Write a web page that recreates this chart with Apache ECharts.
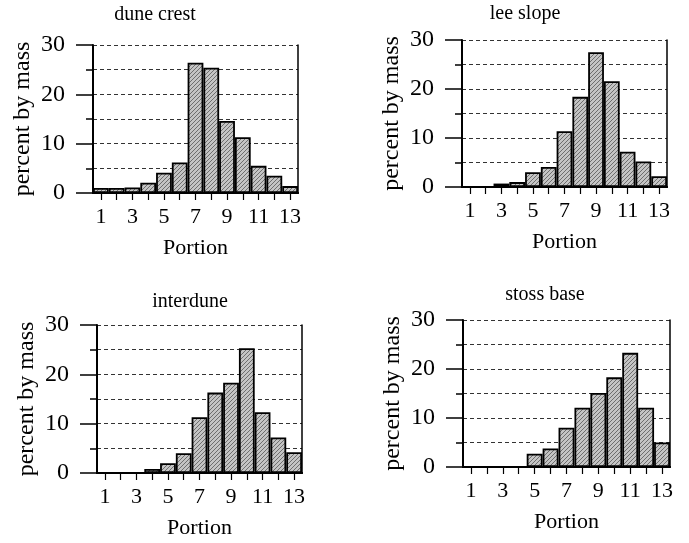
<!DOCTYPE html>
<html>
<head>
<meta charset="utf-8">
<script src="https://cdn.jsdelivr.net/npm/echarts@6/dist/echarts.min.js"></script>
<style>
html,body{margin:0;padding:0;background:#fff;}
#c{width:689px;height:543px;}
</style>
</head>
<body>
<div id="c"></div>
<script>
var categories = ['1','2','3','4','5','6','7','8','9','10','11','12','13'];
var duneCrest = [1.0, 1.0, 1.1, 2.1, 4.1, 6.2, 26.4, 25.4, 14.6, 11.3, 5.5, 3.5, 1.4];
var leeSlope  = [0, 0, 0.7, 1.0, 3.0, 4.1, 11.4, 18.4, 27.5, 21.6, 7.2, 5.2, 2.2];
var interdune = [0, 0, 0, 0.8, 2.0, 4.0, 11.3, 16.3, 18.3, 25.3, 12.3, 7.2, 4.2];
var stossBase = [0, 0, 0, 0, 2.7, 3.8, 8.0, 12.1, 15.1, 18.3, 23.3, 12.1, 5.0];
var panelTitles = ['dune crest', 'lee slope', 'interdune', 'stoss base'];
var yTicks = [0, 10, 20, 30];
var xName = 'Portion';
var yName = 'percent by mass';

var seriesData = [duneCrest, leeSlope, interdune, stossBase];

// hatch pattern
var pc = document.createElement('canvas');
pc.width = 4; pc.height = 4;
var g = pc.getContext('2d');
g.fillStyle = '#c4c4c4';
g.fillRect(0,0,4,4);
g.strokeStyle = '#6e6e6e';
g.lineWidth = 1;
g.beginPath();
g.moveTo(0,4); g.lineTo(4,0);
g.moveTo(-1,1); g.lineTo(1,-1);
g.moveTo(3,5); g.lineTo(5,3);
g.stroke();

var FONT = 'Liberation Serif';
var grids = [
  {left: 93, top: 45, width: 205, height: 148},
  {left: 462, top: 40, width: 205, height: 147},
  {left: 97, top: 325, width: 205, height: 148},
  {left: 463, top: 320, width: 207, height: 147}
];
var titlePos = [[150, 0], [520, -1], [185, 287], [540, 280]];

var option = {
  backgroundColor: '#fff',
  animation: false,
  title: [],
  grid: [],
  xAxis: [],
  yAxis: [],
  series: []
};

var dash = {color: '#333', width: 1, type: [4, 3]};

for (var i = 0; i < 4; i++) {
  option.title.push({
    text: panelTitles[i], left: titlePos[i][0], top: titlePos[i][1], textAlign: 'center',
    textStyle: {fontFamily: FONT, fontSize: 20, fontWeight: 'normal', color: '#000'}
  });
  var gr = grids[i];
  option.grid.push({left: gr.left, top: gr.top, width: gr.width, height: gr.height, containLabel: false});
  option.xAxis.push({
    type: 'category', gridIndex: i, data: categories, position: 'bottom',
    boundaryGap: true,
    name: xName, nameLocation: 'middle', nameGap: 44,
    nameTextStyle: {fontFamily: FONT, fontSize: 22, color: '#000'},
    axisLine: {show: true, lineStyle: {color: '#000', width: 2}},
    axisTick: {show: true, alignWithLabel: true, interval: 0, length: 7, lineStyle: {color: '#000', width: 1.2}},
    axisLabel: {show: true, interval: 1, margin: 13, fontFamily: FONT, fontSize: 22, color: '#000'},
    splitLine: {show: false}
  });
  option.xAxis.push({
    type: 'category', gridIndex: i, data: categories, position: 'top',
    axisLine: {show: true, lineStyle: {color: '#000', width: 2}},
    axisTick: {show: false}, axisLabel: {show: false}, splitLine: {show: false}
  });
  option.yAxis.push({
    type: 'value', gridIndex: i, min: yTicks[0], max: yTicks[yTicks.length - 1], interval: yTicks[1] - yTicks[0],
    position: 'left',
    name: yName, nameLocation: 'middle', nameGap: 58, nameRotate: 90,
    nameTextStyle: {fontFamily: FONT, fontSize: 24, color: '#000'},
    axisLine: {show: true, lineStyle: {color: '#000', width: 2}},
    axisTick: {show: true, length: 17, lineStyle: {color: '#000', width: 1.5}},
    minorTick: {show: true, splitNumber: 2, length: 7, lineStyle: {color: '#000', width: 1.5}},
    axisLabel: {show: true, margin: 28, fontFamily: FONT, fontSize: 24, color: '#000'},
    splitLine: {show: true, lineStyle: dash},
    minorSplitLine: {show: true, lineStyle: dash}
  });
  option.yAxis.push({
    type: 'value', gridIndex: i, min: 0, max: 30, position: 'right',
    axisLine: {show: true, lineStyle: {color: '#000', width: 1.5}},
    axisTick: {show: false}, axisLabel: {show: false}, splitLine: {show: false}
  });
  option.series.push({
    type: 'bar', xAxisIndex: 2 * i, yAxisIndex: 2 * i, data: seriesData[i],
    barCategoryGap: '0%',
    itemStyle: {color: {image: pc, repeat: 'repeat'}, borderColor: '#000', borderWidth: 1.8},
    z: 3
  });
}

var chart = echarts.init(document.getElementById('c'), null, {renderer: 'canvas'});
chart.setOption(option);
</script>
</body>
</html>
